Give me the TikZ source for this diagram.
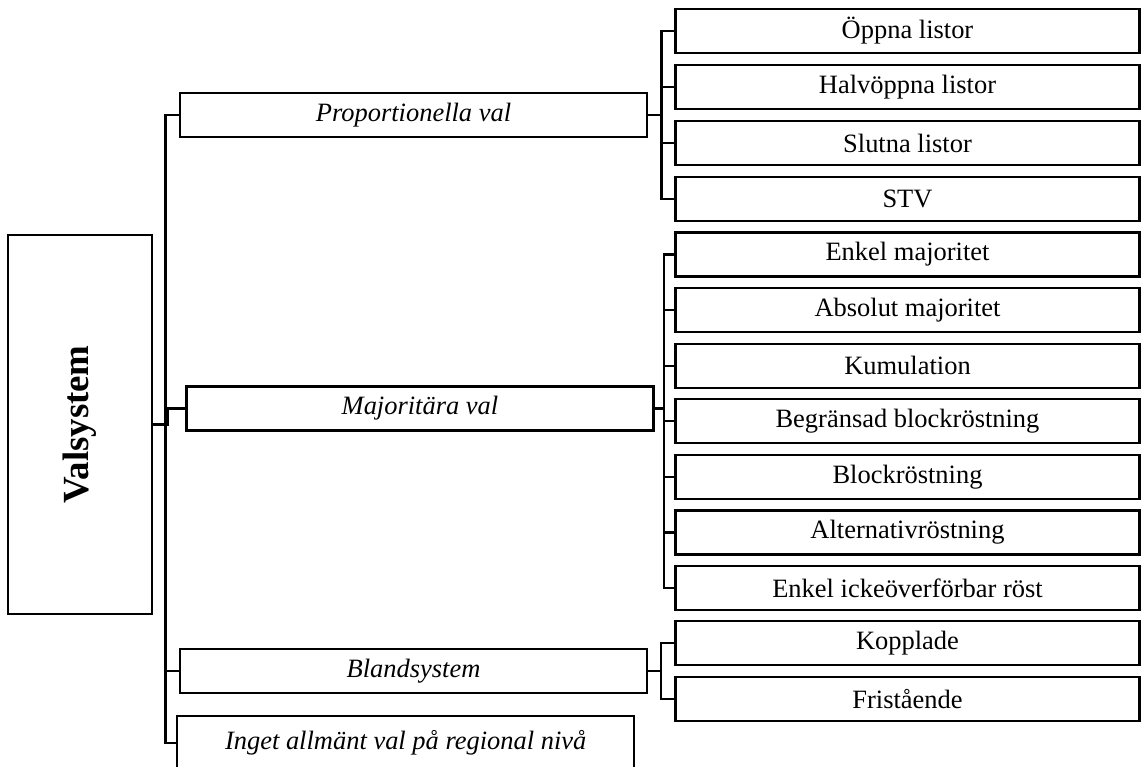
\documentclass[tikz,border=0pt]{standalone}
\usepackage{fontspec}
\usepackage{graphicx}
\setmainfont{Liberation Serif}
\begin{document}
\begin{tikzpicture}[x=0.529pt,y=-0.529pt,line width=1.2pt,
  anybox/.style={draw,inner sep=0pt,font=\fontsize{14}{16}\selectfont},
  rootbox/.style={anybox,minimum width=76.2pt,minimum height=200.5pt,font=\fontsize{19.5}{22}\selectfont\bfseries},
  groupbox/.style={anybox,minimum width=247pt,minimum height=23.3pt,font=\fontsize{14}{16}\selectfont\itshape},
  leafbox/.style={anybox,minimum width=245.5pt,minimum height=23.3pt}]
 \useasboundingbox (0,0) rectangle (1141,767);
 \clip (0,0) rectangle (1141,767);
 % root and first level
 \node[rootbox] (root) at (80,424.5) {\rotatebox{90}{Valsystem}};
 \node[groupbox] (prop) at (413.5,115) {Proportionella val};
 \node[groupbox] (maj) at (420,408.5) {Majoritära val};
 \node[groupbox] (bland) at (413.5,671) {Blandsystem};
 \node[groupbox,minimum width=241.7pt,minimum height=28.6pt] (inget) at (405.7,743) {Inget allmänt val på regional nivå};
 % leaves
 \node[leafbox] (p1) at (907.5,31) {Öppna listor};
 \node[leafbox] (p2) at (907.5,87) {Halvöppna listor};
 \node[leafbox] (p3) at (907.5,143) {Slutna listor};
 \node[leafbox] (p4) at (907.5,199) {STV};
 \node[leafbox] (m1) at (907.5,254.5) {Enkel majoritet};
 \node[leafbox] (m2) at (907.5,310.1) {Absolut majoritet};
 \node[leafbox] (m3) at (907.5,365.7) {Kumulation};
 \node[leafbox] (m4) at (907.5,421.3) {Begränsad blockröstning};
 \node[leafbox] (m5) at (907.5,476.9) {Blockröstning};
 \node[leafbox] (m6) at (907.5,532.5) {Alternativröstning};
 \node[leafbox] (m7) at (907.5,588.1) {Enkel ickeöverförbar röst};
 \node[leafbox] (b1) at (907.5,643.3) {Kopplade};
 \node[leafbox] (b2) at (907.5,698.8) {Fristående};
 % left bus
 \coordinate (bus) at (165.5,424.5);
 \draw (root.east) -- (bus);
 \draw (prop.west) -| (bus) |- (inget.west);
 \draw (bland.west) -- (bland.west -| bus);
 \draw (maj.west) -- ++(-17.5,0) |- (bus);
 % right buses
 \coordinate (pbus) at (661.5,115);
 \draw (prop.east) -- (pbus);
 \draw (p1.west) -| (pbus) |- (p4.west);
 \draw (p2.west) -- (p2.west -| pbus);
 \draw (p3.west) -- (p3.west -| pbus);
 \coordinate (mbus) at (664,408.5);
 \draw (maj.east) -- (mbus);
 \draw (m1.west) -| (mbus) |- (m7.west);
 \foreach \i in {2,...,6} \draw (m\i.west) -- (m\i.west -| mbus);
 \coordinate (bbus) at (661,671);
 \draw (bland.east) -- (bbus);
 \draw (b1.west) -| (bbus) |- (b2.west);
\end{tikzpicture}
\end{document}
